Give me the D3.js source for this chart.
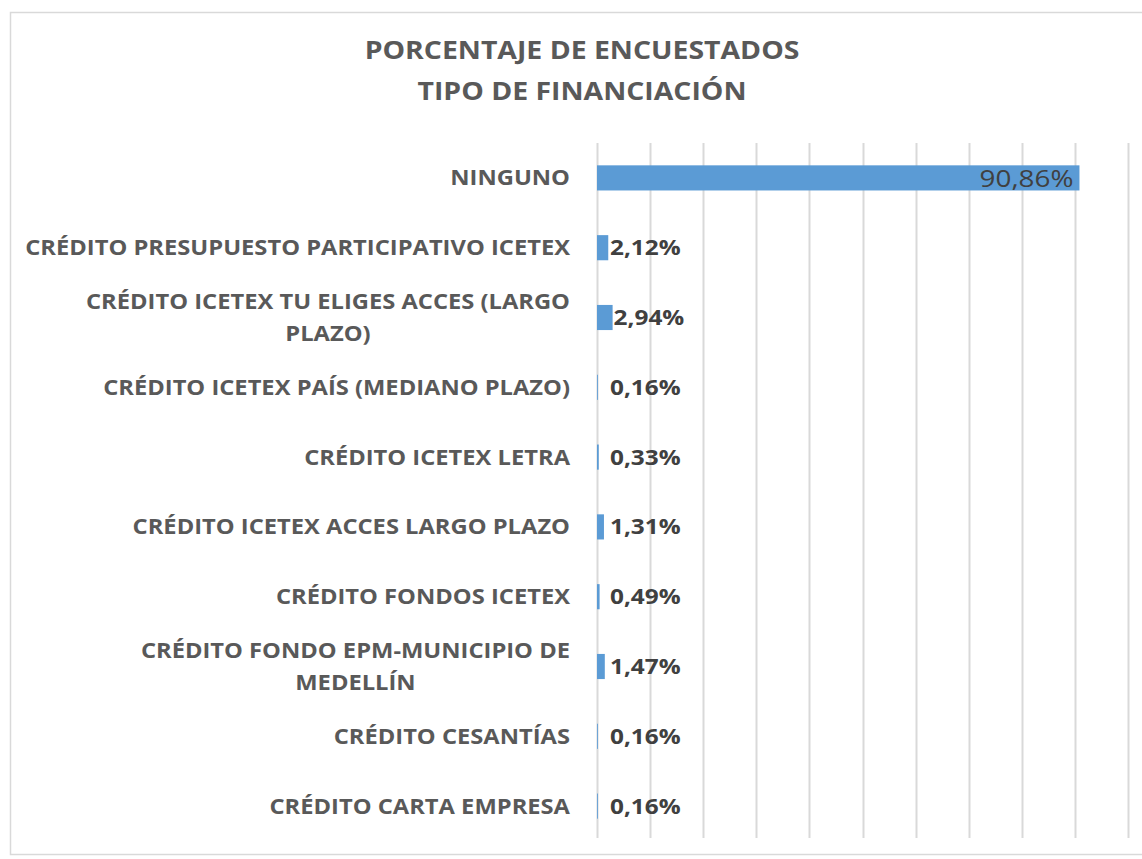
<!DOCTYPE html>
<html>
<head>
<meta charset="utf-8">
<script src="https://cdn.jsdelivr.net/npm/d3@7"></script>
<style>
  body { margin: 0; background: #fff; }
  text { font-family: "Open Sans", Lato, sans-serif; }
</style>
</head>
<body>
<div id="chart"></div>
<script>
// Categories, top to bottom (lines split where the original wraps)
const categories = [
  ['NINGUNO'],
  ['CRÉDITO PRESUPUESTO PARTICIPATIVO ICETEX'],
  ['CRÉDITO ICETEX TU ELIGES ACCES (LARGO', 'PLAZO)'],
  ['CRÉDITO ICETEX PAÍS (MEDIANO PLAZO)'],
  ['CRÉDITO ICETEX LETRA'],
  ['CRÉDITO ICETEX ACCES LARGO PLAZO'],
  ['CRÉDITO FONDOS ICETEX'],
  ['CRÉDITO FONDO EPM-MUNICIPIO DE', 'MEDELLÍN'],
  ['CRÉDITO CESANTÍAS'],
  ['CRÉDITO CARTA EMPRESA'],
];

// Share of respondents (percent)
const values = [90.86, 2.12, 2.94, 0.16, 0.33, 1.31, 0.49, 1.47, 0.16, 0.16];

// Vertical gridlines every 10%
const gridTicks = [0, 10, 20, 30, 40, 50, 60, 70, 80, 90, 100];

const titleLines = ['PORCENTAJE DE ENCUESTADOS', 'TIPO DE FINANCIACIÓN'];

const width = 1142;
const height = 859;
const margin = { top: 143, right: 14, bottom: 21, left: 597 };

// the original is a bit wide in its lettering
const stretch = 1.16;

const locale = d3.formatLocale({ decimal: ',', thousands: '.', grouping: [3], currency: ['', ''] });
const fmt = v => `${locale.format('.2f')(v)}%`;

const svg = d3.select('#chart').append('svg')
  .attr('width', width)
  .attr('height', height);

// Chart frame
svg.append('rect')
  .attr('x', 10.5)
  .attr('y', 12.5)
  .attr('width', 1150)
  .attr('height', 842)
  .attr('fill', '#fff')
  .attr('stroke', '#d9d9d9')
  .attr('stroke-width', 1.5);

const x = d3.scaleLinear()
  .domain([0, 100])
  .range([margin.left, 1128]);

const y = d3.scaleBand()
  .domain(d3.range(categories.length))
  .range([margin.top, height - margin.bottom + 3])
  .paddingInner(0.64)
  .paddingOuter(0.32);

// Gridlines
svg.append('g')
  .selectAll('line')
  .data(gridTicks)
  .join('line')
  .attr('x1', d => Math.round(x(d)) + 0.5)
  .attr('x2', d => Math.round(x(d)) + 0.5)
  .attr('y1', margin.top)
  .attr('y2', height - margin.bottom)
  .attr('stroke', '#d9d9d9')
  .attr('stroke-width', 2);

// Bars
svg.append('g')
  .selectAll('rect')
  .data(values)
  .join('rect')
  .attr('x', x(0))
  .attr('y', (d, i) => y(i))
  .attr('width', d => x(d) - x(0))
  .attr('height', y.bandwidth())
  .attr('fill', '#5b9bd5');

// Data labels: inside end for the big bar, outside end for the rest
const inside = d => d > 50;
svg.append('g')
  .selectAll('text')
  .data(values)
  .join('text')
  .attr('transform', (d, i) => {
    const tx = inside(d) ? x(d) - 6 : Math.max(x(d) + 1, x(0) + 13);
    return `translate(${tx},${y(i) + y.bandwidth() / 2}) scale(${stretch},1)`;
  })
  .attr('dy', '0.36em')
  .attr('text-anchor', d => (inside(d) ? 'end' : 'start'))
  .attr('font-size', d => (inside(d) ? 24 : 21))
  .attr('font-weight', d => (inside(d) ? 'normal' : 'bold'))
  .attr('fill', '#404040')
  .text(fmt);

// Category labels, right aligned; wrapped lines centred on each other
const labelRight = 570;
const lineH = 32;
const catG = svg.append('g')
  .attr('transform', `translate(${labelRight},0) scale(1.13,1)`);
categories.forEach((lines, i) => {
  const cy = y(i) + y.bandwidth() / 2;
  const t = catG.append('text')
    .attr('font-size', 21)
    .attr('font-weight', 'bold')
    .attr('fill', '#595959');
  lines.forEach((ln, j) => {
    t.append('tspan')
      .attr('y', cy + (j - (lines.length - 1) / 2) * lineH)
      .attr('dy', '0.36em')
      .text(ln);
  });
  if (lines.length === 1) {
    t.attr('text-anchor', 'end').selectAll('tspan').attr('x', 0);
  } else {
    const maxW = d3.max(t.selectAll('tspan').nodes(), n => n.getComputedTextLength());
    t.attr('text-anchor', 'middle').selectAll('tspan').attr('x', -maxW / 2);
  }
});

// Title
svg.append('g')
  .attr('transform', `translate(582,0) scale(${stretch},1)`)
  .append('text')
  .attr('text-anchor', 'middle')
  .attr('font-size', 24.5)
  .attr('font-weight', 'bold')
  .attr('fill', '#595959')
  .selectAll('tspan')
  .data(titleLines)
  .join('tspan')
  .attr('x', 0)
  .attr('y', (d, i) => 59 + i * 41)
  .text(d => d);
</script>
</body>
</html>
